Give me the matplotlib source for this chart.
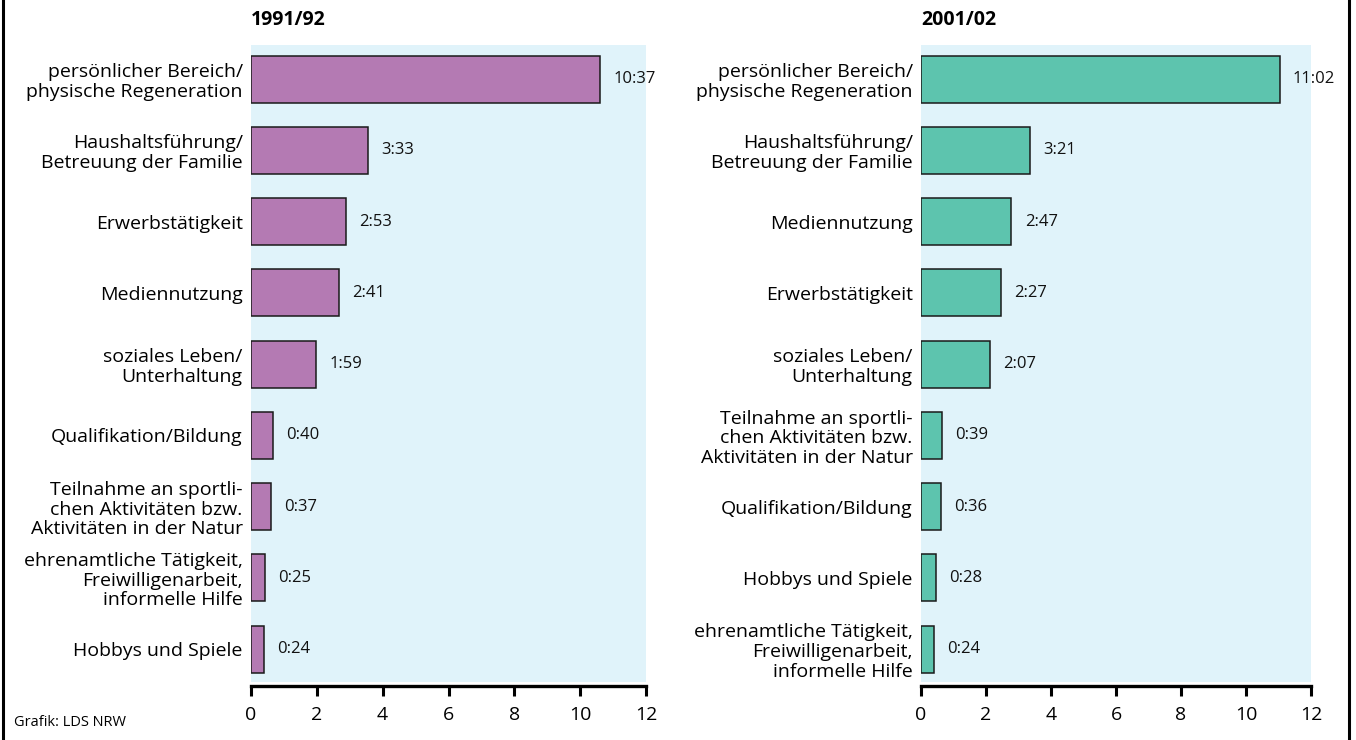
import matplotlib
matplotlib.use("Agg")
import matplotlib.pyplot as plt
from matplotlib.lines import Line2D

plt.rcParams['font.family'] = ['Open Sans', 'DejaVu Sans']

# 1991/92
labels_1991 = [
    "persönlicher Bereich/\nphysische Regeneration",
    "Haushaltsführung/\nBetreuung der Familie",
    "Erwerbstätigkeit",
    "Mediennutzung",
    "soziales Leben/\nUnterhaltung",
    "Qualifikation/Bildung",
    "Teilnahme an sportli-\nchen Aktivitäten bzw.\nAktivitäten in der Natur",
    "ehrenamtliche Tätigkeit,\nFreiwilligenarbeit,\ninformelle Hilfe",
    "Hobbys und Spiele",
]
times_1991 = ["10:37", "3:33", "2:53", "2:41", "1:59", "0:40", "0:37", "0:25", "0:24"]

# 2001/02
labels_2001 = [
    "persönlicher Bereich/\nphysische Regeneration",
    "Haushaltsführung/\nBetreuung der Familie",
    "Mediennutzung",
    "Erwerbstätigkeit",
    "soziales Leben/\nUnterhaltung",
    "Teilnahme an sportli-\nchen Aktivitäten bzw.\nAktivitäten in der Natur",
    "Qualifikation/Bildung",
    "Hobbys und Spiele",
    "ehrenamtliche Tätigkeit,\nFreiwilligenarbeit,\ninformelle Hilfe",
]
times_2001 = ["11:02", "3:21", "2:47", "2:27", "2:07", "0:39", "0:36", "0:28", "0:24"]

xticks = [0, 2, 4, 6, 8, 10, 12]


def to_hours(t):
    h, m = t.split(":")
    return int(h) + int(m) / 60


W, H = 1356, 740
fig = plt.figure(figsize=(W / 100, H / 100), dpi=100)

bg = "#e0f3fa"


def panel(x0, x1, title, labels, times, color):
    ax = fig.add_axes([x0 / W, (H - 682) / H, (x1 - x0) / W, (682 - 45) / H])
    ax.set_facecolor(bg)
    vals = [to_hours(t) for t in times]
    y = list(range(len(labels)))
    ax.barh(y, vals, height=0.66, color=color, edgecolor="#1a1a1a", linewidth=1.1)
    for yi, v, t in zip(y, vals, times):
        ax.annotate(t, (v, yi), xytext=(9.5, 0), textcoords="offset points",
                    va="center", ha="left", fontsize=12, color="#111111")
    ax.set_xlim(0, 12)
    ax.set_ylim(len(labels) - 1 + 0.46, -0.48)
    ax.set_yticks(y)
    ax.set_yticklabels(labels, fontsize=14, ha="right", linespacing=1.12)
    ax.tick_params(axis="y", length=0, pad=6)
    ax.set_xticks(xticks)
    ax.set_xticklabels([str(v) for v in xticks])
    ax.tick_params(axis="x", length=7, width=2.2, pad=7, color="black", labelsize=14)
    for s in ["top", "right", "left"]:
        ax.spines[s].set_visible(False)
    ax.spines["bottom"].set_position(("outward", 3))
    ax.spines["bottom"].set_linewidth(2.4)
    fig.text(x0 / W, 1 - 20 / H, title, fontsize=14, fontweight="bold",
             ha="left", va="center")
    return ax


panel(251, 646, "1991/92", labels_1991, times_1991, "#b47ab3")
panel(921, 1311, "2001/02", labels_2001, times_2001, "#5dc4ae")

fig.text(14 / W, 1 - 723 / H, "Grafik: LDS NRW", fontsize=10.5, ha="left", va="center")

# frame lines on left and right edge
fig.add_artist(Line2D([2.5 / W, 2.5 / W], [0, 1], color="black", linewidth=2.2))
fig.add_artist(Line2D([1348.5 / W, 1348.5 / W], [0, 1], color="black", linewidth=2.2))

fig.savefig("out.png", dpi=100)
